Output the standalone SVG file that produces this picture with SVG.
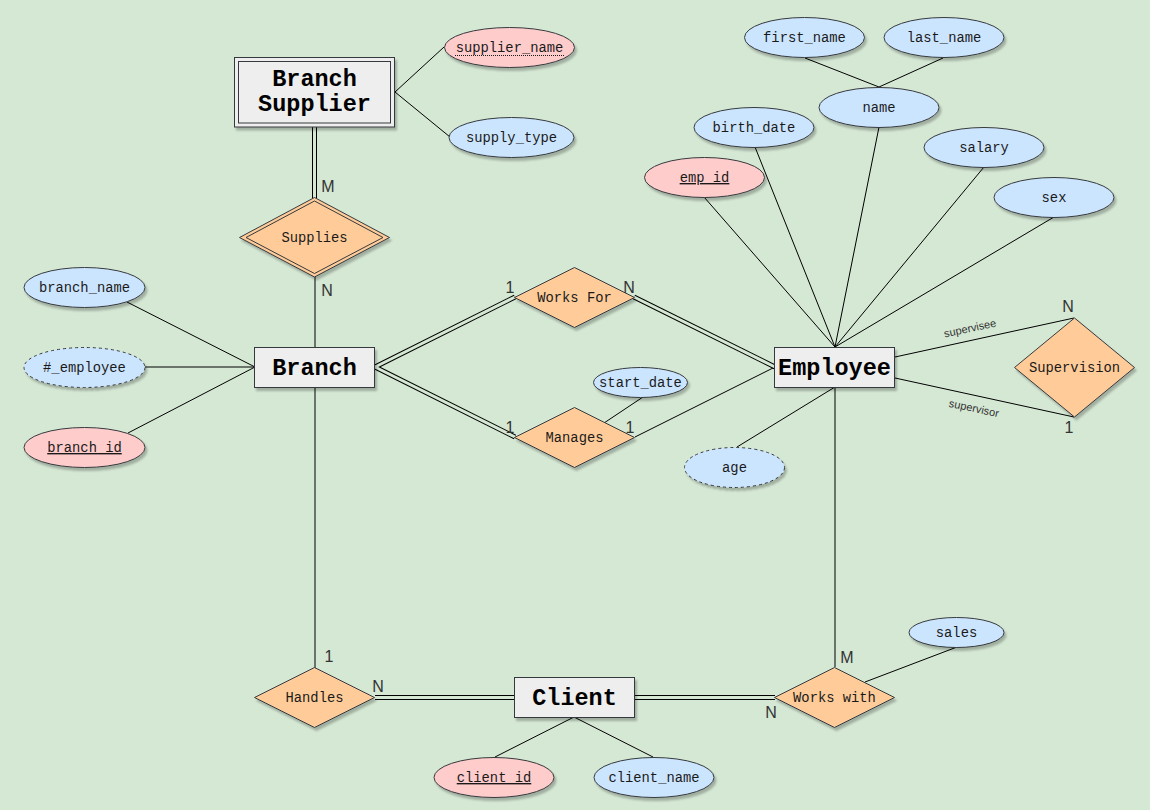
<svg xmlns="http://www.w3.org/2000/svg" width="1150" height="810" viewBox="0 0 1150 810">
<defs>
<filter id="sh" x="-20%" y="-20%" width="150%" height="160%">
<feDropShadow dx="2" dy="3" stdDeviation="1.3" flood-color="#000" flood-opacity="0.25"/>
</filter>
<style>
.ent{fill:#eeeeee;stroke:#36393d;stroke-width:1;filter:url(#sh)}
.entin{fill:none;stroke:#36393d;stroke-width:1}
.rel{fill:#ffcc99;stroke:#36393d;stroke-width:1;filter:url(#sh)}
.relin{fill:none;stroke:#36393d;stroke-width:1}
.att{fill:#cce5ff;stroke:#36393d;stroke-width:1;filter:url(#sh)}
.key{fill:#ffcccc;stroke:#36393d;stroke-width:1;filter:url(#sh)}
.der{fill:#cce5ff;stroke:#36393d;stroke-width:1;stroke-dasharray:3 3;filter:url(#sh)}
.et{font-family:"Liberation Mono","Courier New",monospace;font-weight:bold;font-size:23.5px;fill:#000;text-anchor:middle}
.at{font-family:"Liberation Mono","Courier New",monospace;font-size:13.8px;fill:#1a1a1a;text-anchor:middle}
.u{text-decoration:underline}
.card{font-family:"Liberation Sans",Arial,sans-serif;font-size:16px;fill:#333;text-anchor:middle}
.role{font-family:"Liberation Sans",Arial,sans-serif;font-size:11px;fill:#333;text-anchor:middle}
.ln{stroke:#000;stroke-width:1;fill:none}
.dbo{stroke:#000;stroke-width:5;fill:none}
.dbi{stroke:#d5e8d4;stroke-width:3;fill:none}
</style>
</defs>
<rect x="0" y="0" width="1150" height="810" fill="#d5e8d4"/>

<g id="connectors">
<!-- single lines -->
<line class="ln" x1="395" y1="92" x2="444" y2="47"/>
<line class="ln" x1="395" y1="92" x2="450" y2="137"/>
<line class="ln" x1="315" y1="277" x2="315" y2="347"/>
<line class="ln" x1="127" y1="302" x2="255" y2="367"/>
<line class="ln" x1="145" y1="367" x2="255" y2="367"/>
<line class="ln" x1="128" y1="433" x2="255" y2="367"/>
<line class="ln" x1="635" y1="437" x2="775" y2="367"/>
<line class="ln" x1="643" y1="397" x2="604" y2="423"/>
<line class="ln" x1="805" y1="58" x2="879" y2="87"/>
<line class="ln" x1="943" y1="58" x2="879" y2="87"/>
<line class="ln" x1="879" y1="127" x2="835" y2="347"/>
<line class="ln" x1="755" y1="147" x2="835" y2="347"/>
<line class="ln" x1="704" y1="197" x2="835" y2="347"/>
<line class="ln" x1="984" y1="167" x2="835" y2="347"/>
<line class="ln" x1="1054" y1="217" x2="835" y2="347"/>
<line class="ln" x1="835" y1="387" x2="737" y2="447"/>
<line class="ln" x1="895" y1="357" x2="1074" y2="318"/>
<line class="ln" x1="895" y1="378" x2="1074" y2="417"/>
<line class="ln" x1="835" y1="387" x2="835" y2="667"/>
<line class="ln" x1="957" y1="647" x2="865" y2="682"/>
<line class="ln" x1="315" y1="387" x2="315" y2="668"/>
<line class="ln" x1="574" y1="717" x2="495" y2="757"/>
<line class="ln" x1="574" y1="717" x2="653" y2="757"/>
<!-- double lines -->
<line class="dbo" x1="314.5" y1="127" x2="314.5" y2="198"/>
<line class="dbo" x1="375" y1="367" x2="515" y2="297"/>
<line class="dbo" x1="375" y1="367" x2="515" y2="437"/>
<line class="dbo" x1="634" y1="297" x2="775" y2="367"/>
<line class="dbo" x1="375" y1="697.5" x2="515" y2="697.5"/>
<line class="dbo" x1="634" y1="697.5" x2="775" y2="697.5"/>
<line class="dbi" x1="314.5" y1="127" x2="314.5" y2="198"/>
<line class="dbi" x1="375" y1="367" x2="515" y2="297"/>
<line class="dbi" x1="375" y1="367" x2="515" y2="437"/>
<line class="dbi" x1="634" y1="297" x2="775" y2="367"/>
<line class="dbi" x1="375" y1="697.5" x2="515" y2="697.5"/>
<line class="dbi" x1="634" y1="697.5" x2="775" y2="697.5"/>
<!-- labels -->
<text class="card" x="328" y="192">M</text>
<text class="card" x="327" y="296">N</text>
<text class="card" x="510" y="293">1</text>
<text class="card" x="629" y="293">N</text>
<text class="card" x="510" y="433">1</text>
<text class="card" x="630" y="433">1</text>
<text class="card" x="1068" y="312">N</text>
<text class="card" x="1069" y="433">1</text>
<text class="card" x="329" y="662">1</text>
<text class="card" x="378" y="692">N</text>
<text class="card" x="847" y="663">M</text>
<text class="card" x="771" y="718">N</text>
<text class="role" x="970" y="332" transform="rotate(-12 970 328)">supervisee</text>
<text class="role" x="974" y="412" transform="rotate(12 974 408)">supervisor</text>
</g>

<g id="branch_supplier">
<rect class="ent" x="234.5" y="57.5" width="160" height="69.5"/>
<rect class="entin" x="238.5" y="61.5" width="152" height="61.5"/>
<text class="et" x="314.5" y="86">Branch</text>
<text class="et" x="314.5" y="111">Supplier</text>
</g>
<g id="supplier_name">
<ellipse class="key" cx="509.5" cy="47.5" rx="65" ry="20"/>
<text class="at" x="509.5" y="52">supplier_name</text>
<line x1="455" y1="55.5" x2="564" y2="55.5" stroke="#1a1a1a" stroke-width="1" stroke-dasharray="1 1"/>
</g>
<g id="supply_type">
<ellipse class="att" cx="511.5" cy="137.5" rx="62.5" ry="20"/>
<text class="at" x="511.5" y="142">supply_type</text>
</g>
<g id="supplies">
<polygon class="rel" points="314.5,197.5 389.5,237.5 314.5,277 239.5,237.5"/>
<polygon class="relin" points="314.5,201 383,237.5 314.5,273.5 246,237.5"/>
<text class="at" x="314.5" y="242">Supplies</text>
</g>
<g id="branch">
<rect class="ent" x="254.5" y="347.5" width="120" height="40"/>
<text class="et" x="314.5" y="375">Branch</text>
</g>
<g id="branch_name">
<ellipse class="att" cx="84.5" cy="287.5" rx="60.5" ry="20"/>
<text class="at" x="84.5" y="292">branch_name</text>
</g>
<g id="num_employee">
<ellipse class="der" cx="84.5" cy="367.5" rx="60.5" ry="20"/>
<text class="at" x="84.5" y="372">#_employee</text>
</g>
<g id="branch_id">
<ellipse class="key" cx="84.5" cy="447.5" rx="60.5" ry="20"/>
<text class="at u" x="84.5" y="452">branch_id</text>
</g>
<g id="works_for">
<polygon class="rel" points="574.5,267.5 634.5,297.5 574.5,327.5 514.5,297.5"/>
<text class="at" x="574.5" y="302">Works For</text>
</g>
<g id="manages">
<polygon class="rel" points="574.5,407.5 634.5,437.5 574.5,467.5 514.5,437.5"/>
<text class="at" x="574.5" y="442">Manages</text>
</g>
<g id="start_date">
<ellipse class="att" cx="640.5" cy="382.5" rx="47" ry="15"/>
<text class="at" x="640.5" y="387">start_date</text>
</g>
<g id="employee">
<rect class="ent" x="774.5" y="347.5" width="120" height="40"/>
<text class="et" x="834.5" y="375">Employee</text>
</g>
<g id="first_name">
<ellipse class="att" cx="804.5" cy="37.5" rx="60" ry="20"/>
<text class="at" x="804.5" y="42">first_name</text>
</g>
<g id="last_name">
<ellipse class="att" cx="944" cy="37.5" rx="60" ry="20"/>
<text class="at" x="944" y="42">last_name</text>
</g>
<g id="name">
<ellipse class="att" cx="879" cy="107.5" rx="60" ry="20"/>
<text class="at" x="879" y="112">name</text>
</g>
<g id="birth_date">
<ellipse class="att" cx="754" cy="127.5" rx="60" ry="20"/>
<text class="at" x="754" y="132">birth_date</text>
</g>
<g id="salary">
<ellipse class="att" cx="984" cy="147.5" rx="60" ry="20"/>
<text class="at" x="984" y="152">salary</text>
</g>
<g id="emp_id">
<ellipse class="key" cx="704.5" cy="177.5" rx="60" ry="20"/>
<text class="at u" x="704.5" y="182">emp_id</text>
</g>
<g id="sex">
<ellipse class="att" cx="1054" cy="197.5" rx="60" ry="20"/>
<text class="at" x="1054" y="202">sex</text>
</g>
<g id="age">
<ellipse class="der" cx="734.5" cy="467.5" rx="50" ry="20"/>
<text class="at" x="734.5" y="472">age</text>
</g>
<g id="supervision">
<polygon class="rel" points="1074.5,318 1134.5,367.5 1074.5,417 1014.5,367.5"/>
<text class="at" x="1074.5" y="372">Supervision</text>
</g>
<g id="works_with">
<polygon class="rel" points="834.5,667.5 894.5,697.5 834.5,727.5 774.5,697.5"/>
<text class="at" x="834.5" y="702">Works with</text>
</g>
<g id="sales">
<ellipse class="att" cx="956.5" cy="632.5" rx="47.5" ry="15"/>
<text class="at" x="956.5" y="637">sales</text>
</g>
<g id="client">
<rect class="ent" x="514.5" y="677.5" width="120" height="40"/>
<text class="et" x="574.5" y="705">Client</text>
</g>
<g id="handles">
<polygon class="rel" points="314.5,667.5 374.5,697.5 314.5,727.5 254.5,697.5"/>
<text class="at" x="314.5" y="702">Handles</text>
</g>
<g id="client_id">
<ellipse class="key" cx="494" cy="777.5" rx="60" ry="20"/>
<text class="at u" x="494" y="782">client_id</text>
</g>
<g id="client_name">
<ellipse class="att" cx="654" cy="777.5" rx="60" ry="20"/>
<text class="at" x="654" y="782">client_name</text>
</g>
</svg>
